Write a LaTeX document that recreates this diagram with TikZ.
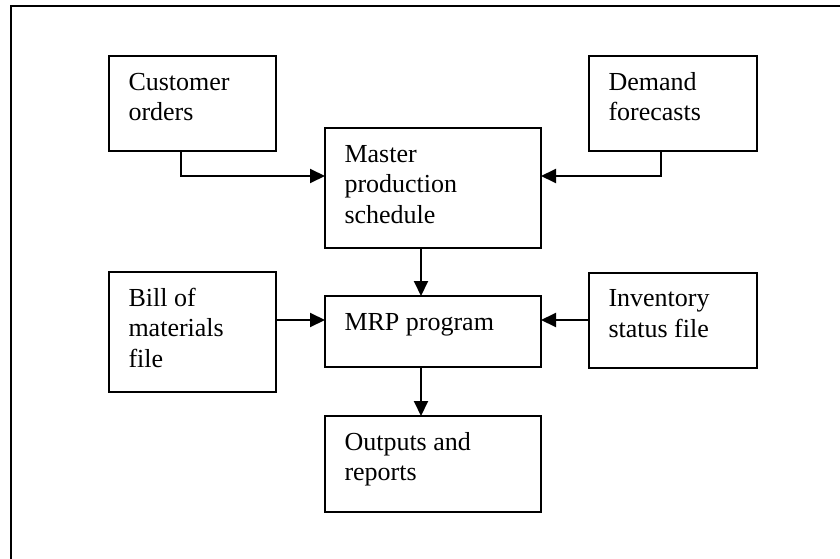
\documentclass[tikz,border=0pt]{standalone}
\usepackage{fontspec}
\setmainfont{Liberation Serif}
\usetikzlibrary{arrows.meta}
\begin{document}
\begin{tikzpicture}[x=1pt,y=-1pt,
  box/.style={draw, line width=2pt, inner sep=0pt, outer sep=0pt},
  txt/.style={anchor=north west, inner sep=0pt, outer sep=0pt, align=left,
              font=\fontsize{26pt}{30.7pt}\selectfont},
  arr/.style={line width=2pt, -{Triangle[length=15pt,width=14pt]}},
]
\useasboundingbox (0,0) rectangle (840,559);
% page frame
\draw[line width=2pt] (840,6) -- (11,6) -- (11,559);

% boxes
\node[box, minimum width=167pt, minimum height=95pt]  (cust) at (192.5,103.5) {};
\node[box, minimum width=168pt, minimum height=95pt]  (dem)  at (673,103.5) {};
\node[box, minimum width=216pt, minimum height=120pt] (mps)  at (433,188) {};
\node[box, minimum width=167pt, minimum height=120pt] (bom)  at (192.5,332) {};
\node[box, minimum width=216pt, minimum height=71pt]  (mrp)  at (433,331.5) {};
\node[box, minimum width=168pt, minimum height=95pt]  (inv)  at (673,320) {};
\node[box, minimum width=216pt, minimum height=96pt]  (out)  at (433,464) {};

% box texts
\node[txt] (custtext) at ([shift={(19.5pt,-14pt)}]cust.north west) {\rule{0pt}{20pt}Customer\\orders};
\node[txt] (demtext)  at ([shift={(19.5pt,-14pt)}]dem.north west)  {\rule{0pt}{20pt}Demand\\forecasts};
\node[txt] (mpstext)  at ([shift={(19.5pt,-14pt)}]mps.north west)  {\rule{0pt}{20pt}Master\\production\\schedule};
\node[txt] (bomtext)  at ([shift={(19.5pt,-14pt)}]bom.north west)  {\rule{0pt}{20pt}Bill of\\materials\\file};
\node[txt] (mrptext)  at ([shift={(19.5pt,-14pt)}]mrp.north west)  {\rule{0pt}{20pt}MRP program};
\node[txt] (invtext)  at ([shift={(19.5pt,-14pt)}]inv.north west)  {\rule{0pt}{20pt}Inventory\\status file};
\node[txt] (outtext)  at ([shift={(19.5pt,-14pt)}]out.north west)  {\rule{0pt}{20pt}Outputs and\\reports};

% connectors
\draw[arr] ([xshift=-11.5pt]cust.south) |- ([yshift=12pt]mps.west);
\draw[arr] ([xshift=-12pt]dem.south) |- ([yshift=12pt]mps.east);
\draw[arr] ([xshift=-12pt]mps.south) -- ([xshift=-12pt]mrp.north);
\draw[arr] ([yshift=12pt]bom.east) -- ([yshift=12pt]bom.east -| mrp.west);
\draw[arr] (inv.west) -- (inv.west -| mrp.east);
\draw[arr] ([xshift=-12pt]mrp.south) -- ([xshift=-12pt]out.north);
\end{tikzpicture}
\end{document}
